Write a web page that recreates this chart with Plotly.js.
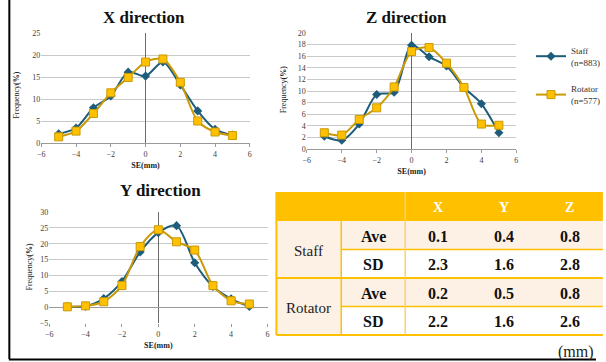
<!DOCTYPE html>
<html>
<head>
<meta charset="utf-8">
<script src="https://cdn.plot.ly/plotly-3.0.1.min.js"></script>
<style>
html,body{margin:0;padding:0;background:#fff;}
#chart{width:606px;height:362px;}
</style>
</head>
<body>
<div id="chart"></div>
<script>
// ---- data ----
const seValues = [-5, -4, -3, -2, -1, 0, 1, 2, 3, 4, 5];
const xStaff   = [2.1, 3.4, 8.0, 10.7, 16.1, 15.2, 18.4, 13.2, 7.3, 3.1, 1.8];
const xRotator = [1.4, 2.7, 6.7, 11.4, 14.9, 18.4, 19.1, 13.8, 5.0, 2.5, 1.7];
const zStaff   = [2.2, 1.5, 4.3, 9.4, 9.8, 17.9, 15.9, 14.3, 10.6, 7.8, 2.8];
const zRotator = [2.8, 2.4, 5.1, 7.1, 10.7, 16.8, 17.5, 14.8, 10.6, 4.3, 4.1];
const yStaff   = [0.2, 0.3, 2.7, 8.1, 17.4, 23.5, 25.7, 14.0, 6.5, 2.6, 0.2];
const yRotator = [0.1, 0.4, 1.7, 6.8, 19.1, 24.4, 20.6, 18.0, 6.8, 2.0, 1.0];

const seriesNames = ['Staff<br>(n=883)', 'Rotator<br>(n=577)'];
const chartTitles = ['X direction', 'Z direction', 'Y direction'];
const yTitleText = 'Frequency<b>(%)</b>';
const xTitleText = '<b>SE(mm)</b>';

const tableHeader = ['X', 'Y', 'Z'];
const tableGroups = ['Staff', 'Rotator'];
const tableStats  = ['Ave', 'SD'];
const staffAve    = ['0.1', '0.4', '0.8'];
const staffSD     = ['2.3', '1.6', '2.8'];
const rotatorAve  = ['0.2', '0.5', '0.8'];
const rotatorSD   = ['2.2', '1.6', '2.6'];
const unitLabel   = '(mm)';

// ---- styling ----
const W = 606, H = 362;
const px = v => v / W;
const py = v => 1 - v / H;
const SERIF = 'Liberation Serif, DejaVu Serif, serif';
const staffColor = '#1d5c7a';
const rotLine = '#c99a06';
const rotFill = '#ffc000';
const gold = '#ffc000';
const peach = '#fdf0e4';

function staffTrace(y, xa, ya, show) {
  return {x: seValues, y: y, xaxis: xa, yaxis: ya, type: 'scatter', mode: 'lines+markers',
    name: seriesNames[0], legendgroup: 's', showlegend: show,
    line: {color: staffColor, width: 2, shape: 'spline', smoothing: 0.8},
    marker: {symbol: 'diamond', size: 7, color: staffColor}};
}
function rotTrace(y, xa, ya, show) {
  return {x: seValues, y: y, xaxis: xa, yaxis: ya, type: 'scatter', mode: 'lines+markers',
    name: seriesNames[1], legendgroup: 'r', showlegend: show,
    line: {color: rotLine, width: 2, shape: 'spline', smoothing: 0.8},
    marker: {symbol: 'square', size: 8, color: rotFill, line: {color: rotLine, width: 1}}};
}

const traces = [
  staffTrace(xStaff, 'x', 'y', false), rotTrace(xRotator, 'x', 'y', false),
  staffTrace(zStaff, 'x2', 'y2', true), rotTrace(zRotator, 'x2', 'y2', true),
  staffTrace(yStaff, 'x3', 'y3', false), rotTrace(yRotator, 'x3', 'y3', false)
];

const tickFont = {family: SERIF, size: 8, color: '#404040'};
const xTitle = {text: xTitleText, font: {family: SERIF, size: 8, color: '#222'}, standoff: 4};

function xAxis(domain, anchor, showline) {
  return {domain: domain, anchor: anchor, range: [-6, 6], dtick: 2, tick0: -6,
    showgrid: false, zeroline: true, zerolinecolor: '#6b6b6b', zerolinewidth: 1,
    showline: showline, linecolor: '#9a9a9a', linewidth: 1,
    ticks: 'outside', ticklen: 3, tickcolor: '#9a9a9a',
    tickfont: tickFont, title: xTitle};
}
function yAxis(domain, anchor, range, dtick, zl) {
  return {domain: domain, anchor: anchor, range: range, dtick: dtick,
    showgrid: true, gridcolor: '#c9c9c9', gridwidth: 1,
    zeroline: zl, zerolinecolor: '#9a9a9a', zerolinewidth: 1,
    showline: false, ticks: '', tickfont: tickFont, title: {text: ''}};
}

// ---- table via shapes / annotations ----
const colX = [281, 347, 412, 479, 546, 613];
const rowY = [192, 221, 249.5, 278, 306.5, 335];
const shapes = [];
const annotations = [];
function rect(x0, y0, x1, y1, fill) {
  shapes.push({type: 'rect', xref: 'paper', yref: 'paper', x0: px(x0), x1: px(x1), y0: py(y1), y1: py(y0),
    fillcolor: fill, line: {width: 0}, layer: 'below'});
}
function line(x0, y0, x1, y1, color, w) {
  shapes.push({type: 'line', xref: 'paper', yref: 'paper', x0: px(x0), x1: px(x1), y0: py(y0), y1: py(y1),
    line: {color: color, width: w}});
}
function text(t, x, y, size, color, bold, angle) {
  annotations.push({xref: 'paper', yref: 'paper', x: px(x), y: py(y), text: bold ? '<b>' + t + '</b>' : t,
    showarrow: false, xanchor: 'center', yanchor: 'middle', textangle: angle || 0,
    font: {family: SERIF, size: size, color: color}});
}
// header
rect(colX[0], rowY[0], colX[5], rowY[1], gold);
tableHeader.forEach((h, i) => text(h, (colX[i + 2] + colX[i + 3]) / 2, (rowY[0] + rowY[1]) / 2 + 1, 14, '#ffffff', true));
// body
const bodyRows = [staffAve, staffSD, rotatorAve, rotatorSD];
bodyRows.forEach((vals, r) => {
  const fill = r % 2 === 0 ? peach : '#ffffff';
  rect(colX[1], rowY[r + 1], colX[5], rowY[r + 2], fill);
  text(tableStats[r % 2], (colX[1] + colX[2]) / 2, (rowY[r + 1] + rowY[r + 2]) / 2 + 1, 16, '#111', true);
  vals.forEach((v, i) => text(v, (colX[i + 2] + colX[i + 3]) / 2, (rowY[r + 1] + rowY[r + 2]) / 2 + 1, 16, '#111', true));
});
tableGroups.forEach((g, k) => {
  rect(colX[0], rowY[1 + 2 * k], colX[1], rowY[3 + 2 * k], peach);
  text(g, (colX[0] + colX[1]) / 2, rowY[2 + 2 * k] + 1, 15, '#222', false);
});
// grid lines of table
line(colX[1], rowY[2], colX[5], rowY[2], gold, 1.5);
line(colX[1], rowY[4], colX[5], rowY[4], gold, 1.5);
line(colX[0], rowY[3], colX[5], rowY[3], gold, 2);
line(colX[0], rowY[5], colX[5], rowY[5], gold, 2);
line(colX[0], rowY[0], colX[0], rowY[5], gold, 2);
line(colX[1], rowY[1], colX[1], rowY[5], gold, 1.5);
line(colX[2], rowY[0], colX[2], rowY[5], '#fcd36a', 1.5);
text(unitLabel, 586, 352, 16, '#222', false);

// frame lines
line(9.5, 0, 9.5, 359, '#000', 2);
line(9, 359.5, 606, 359.5, '#000', 2);

// y-axis titles
text(yTitleText, 16, 95, 8, '#222', false, -90);
text(yTitleText, 288, 90, 8, '#222', false, -90);
text(yTitleText, 29, 267, 8, '#222', false, -90);

// chart titles
const titleFont = {family: SERIF, size: 17, color: '#111'};
[[chartTitles[0], 146, 17], [chartTitles[1], 413, 17], [chartTitles[2], 163, 190]].forEach(t => {
  annotations.push({xref: 'paper', yref: 'paper', x: px(t[1]), y: py(t[2]), text: '<b>' + t[0] + '</b>',
    showarrow: false, xanchor: 'center', yanchor: 'middle', font: titleFont});
});

const layout = {
  width: W, height: H,
  margin: {l: 0, r: 0, t: 0, b: 0},
  paper_bgcolor: '#ffffff', plot_bgcolor: 'rgba(0,0,0,0)',
  showlegend: true,
  legend: {x: px(540), y: py(38), xanchor: 'left', yanchor: 'top', bgcolor: 'rgba(0,0,0,0)',
    font: {family: SERIF, size: 9, color: '#333'}, itemwidth: 30,
    traceorder: 'grouped', tracegroupgap: 12},
  xaxis: xAxis([px(42), px(254)], 'y', true),
  yaxis: yAxis([py(143), py(33)], 'x', [0, 25], 5, false),
  xaxis2: xAxis([px(312), px(525)], 'y2', true),
  yaxis2: yAxis([py(149), py(33)], 'x2', [0, 20], 2, false),
  xaxis3: xAxis([px(50), px(272)], 'y3', false),
  yaxis3: yAxis([py(323), py(212)], 'x3', [-5, 30], 5, true),
  shapes: shapes,
  annotations: annotations
};

Plotly.newPlot('chart', traces, layout, {displayModeBar: false, staticPlot: true});
</script>
</body>
</html>
